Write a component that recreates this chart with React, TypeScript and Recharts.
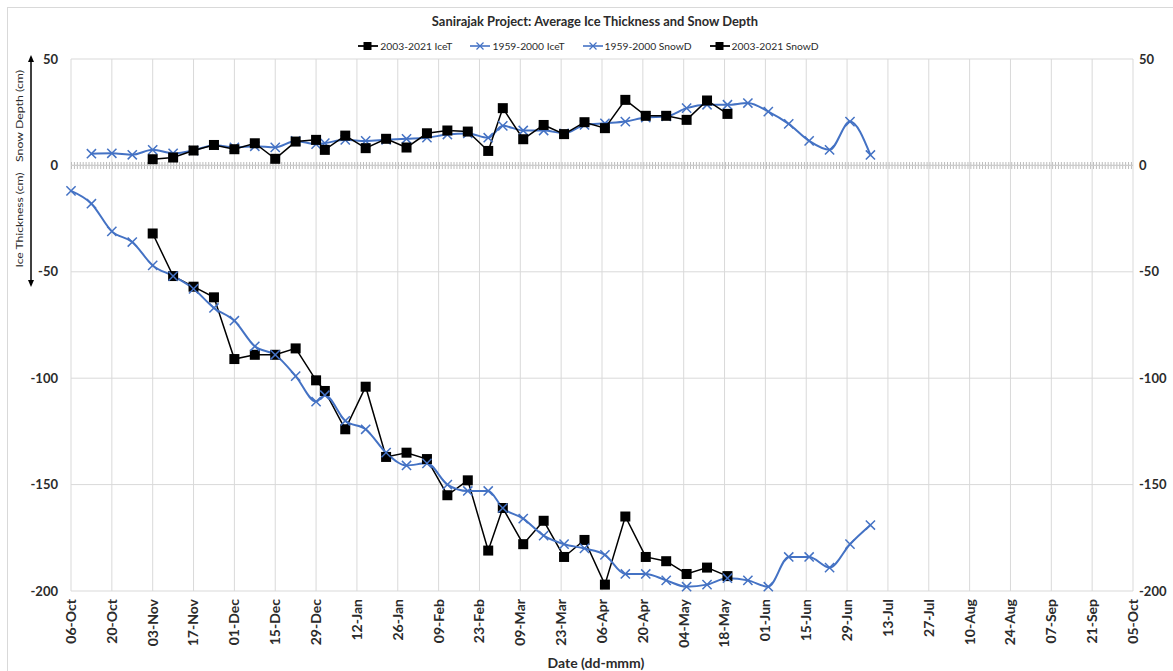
import { ComposedChart, Line, XAxis, YAxis, CartesianGrid, ReferenceLine, Legend } from 'recharts';

// x positions are days counted from 06-Oct
const TICK_LABELS = [
  '06-Oct', '20-Oct', '03-Nov', '17-Nov', '01-Dec', '15-Dec', '29-Dec', '12-Jan', '26-Jan',
  '09-Feb', '23-Feb', '09-Mar', '23-Mar', '06-Apr', '20-Apr', '04-May', '18-May', '01-Jun',
  '15-Jun', '29-Jun', '13-Jul', '27-Jul', '10-Aug', '24-Aug', '07-Sep', '21-Sep', '05-Oct',
];
const TICK_DAYS = TICK_LABELS.map((_, i) => i * 14);
const Y_TICKS = [-200, -150, -100, -50, 0, 50];

const ICE_NEW_DAYS = [28, 35, 42, 49, 56, 63, 70, 77, 84, 87, 94, 101, 108, 115, 122, 129, 136, 143, 148, 155, 162, 169, 176, 183, 190, 197, 204, 211, 218, 225];
const ICE_NEW = [-32, -52, -57, -62, -91, -89, -89, -86, -101, -106, -124, -104, -137, -135, -138, -155, -148, -181, -161, -178, -167, -184, -176, -197, -165, -184, -186, -192, -189, -193];

const ICE_OLD_DAYS = [0, 7, 14, 21, 28, 35, 42, 49, 56, 63, 70, 77, 84, 87, 94, 101, 108, 115, 122, 129, 136, 143, 148, 155, 162, 169, 176, 183, 190, 197, 204, 211, 218, 225, 232, 239, 246, 253, 260, 267, 274];
const ICE_OLD = [-12, -18, -31, -36, -47, -52, -58, -67, -73, -85, -89, -99, -111, -108, -120, -124, -135, -141, -140, -150, -153, -153, -161, -166, -174, -178, -180, -183, -192, -192, -195, -198, -197, -194, -195, -198, -184, -184, -189, -178, -169];

const SNOW_OLD_DAYS = [7, 14, 21, 28, 35, 42, 49, 56, 63, 70, 77, 84, 87, 94, 101, 108, 115, 122, 129, 136, 143, 148, 155, 162, 169, 176, 183, 190, 197, 204, 211, 218, 225, 232, 239, 246, 253, 260, 267, 274];
const SNOW_OLD = [5.5, 5.7, 5, 7.3, 5.7, 7, 9.5, 8.5, 9, 8.5, 11.5, 10, 10.5, 12, 11.5, 12, 12.5, 13, 14.5, 15, 13, 18.6, 16.4, 16.4, 15.1, 19, 19.8, 20.6, 22.5, 23, 26.9, 28.5, 28.5, 29.3, 25.3, 19.5, 11.5, 7.3, 20.6, 4.9];

const SNOW_NEW_DAYS = [28, 35, 42, 49, 56, 63, 70, 77, 84, 87, 94, 101, 108, 115, 122, 129, 136, 143, 148, 155, 162, 169, 176, 183, 190, 197, 204, 211, 218, 225];
const SNOW_NEW = [2.9, 3.7, 7, 9.6, 7.6, 10.4, 3.1, 11.2, 12, 7.3, 14, 8.1, 12.5, 8.4, 15.1, 16.4, 15.9, 6.8, 26.9, 12.3, 19, 14.7, 20.3, 17.5, 30.8, 23.3, 23.3, 21.4, 30.5, 24.2];

const BLUE = '#4472C4';
const TEXT = '#2b2b2b';
const FONT = 'Lato, "Liberation Sans", sans-serif';

const toPoints = (days: number[], values: number[]) => days.map((day, i) => ({ day, v: values[i] }));

const iceNew = toPoints(ICE_NEW_DAYS, ICE_NEW);
const iceOld = toPoints(ICE_OLD_DAYS, ICE_OLD);
const snowOld = toPoints(SNOW_OLD_DAYS, SNOW_OLD);
const snowNew = toPoints(SNOW_NEW_DAYS, SNOW_NEW);

const LEGEND_ITEMS = [
  { name: '2003-2021 IceT', marker: 'square' },
  { name: '1959-2000 IceT', marker: 'cross' },
  { name: '1959-2000 SnowD', marker: 'cross' },
  { name: '2003-2021 SnowD', marker: 'square' },
];

const squareDot = (props: any) => {
  const { cx, cy, index, dataKey } = props;
  const k = `sq-${dataKey}-${props.name}-${index}`;
  if (cx == null || cy == null) return <g key={k} />;
  return <rect key={k} x={cx - 5} y={cy - 5} width={10} height={10} fill="#000" />;
};

const crossDot = (props: any) => {
  const { cx, cy, index, dataKey } = props;
  const k = `x-${dataKey}-${props.name}-${index}`;
  if (cx == null || cy == null) return <g key={k} />;
  const s = 4.6;
  return (
    <path
      key={k}
      d={`M${cx - s},${cy - s}L${cx + s},${cy + s}M${cx - s},${cy + s}L${cx + s},${cy - s}`}
      stroke={BLUE}
      strokeWidth={1.5}
      fill="none"
    />
  );
};

const XTick = (props: any) => {
  const { x, y, payload } = props;
  const idx = TICK_DAYS.indexOf(payload.value);
  return (
    <text
      x={x}
      y={y}
      transform={`rotate(-90, ${x}, ${y})`}
      textAnchor="end"
      dy="0.35em"
      fontSize={14}
      fontWeight="bold"
      fill={TEXT}
    >
      {TICK_LABELS[idx]}
    </text>
  );
};

const renderLegend = () => (
  <div style={{ display: 'flex', justifyContent: 'center', fontSize: 10.3, color: TEXT, paddingLeft: 22 }}>
    {LEGEND_ITEMS.map((item) => (
      <div key={item.name} style={{ display: 'flex', alignItems: 'center', marginRight: 18 }}>
        <svg width={20} height={10} style={{ marginRight: 2 }}>
          {item.marker === 'square' ? (
            <>
              <line x1={0} y1={5} x2={20} y2={5} stroke="#000" strokeWidth={1.8} />
              <rect x={5.5} y={1} width={8} height={8} fill="#000" />
            </>
          ) : (
            <>
              <line x1={0} y1={5} x2={20} y2={5} stroke={BLUE} strokeWidth={1.6} />
              <path d="M6.5,1.5L13.5,8.5M6.5,8.5L13.5,1.5" stroke={BLUE} strokeWidth={1.2} />
            </>
          )}
        </svg>
        <span>{item.name}</span>
      </div>
    ))}
  </div>
);

export default function App() {
  return (
    <div
      style={{
        position: 'absolute',
        left: 0,
        top: 0,
        width: 1173,
        height: 671,
        overflow: 'hidden',
        background: '#fff',
        fontFamily: FONT,
      }}
    >
      <div
        style={{
          position: 'absolute',
          left: 7,
          top: 7,
          width: 1200,
          height: 700,
          border: '1px solid #d9d9d9',
        }}
      />
      <div
        style={{
          position: 'absolute',
          top: 13,
          left: 0,
          width: 1190,
          textAlign: 'center',
          fontSize: 12.9,
          fontWeight: 'bold',
          color: TEXT,
        }}
      >
        Sanirajak Project: Average Ice Thickness and Snow Depth
      </div>

      <ComposedChart width={1173} height={671} margin={{ top: 59, right: 0, bottom: 0, left: 0 }}>
        <CartesianGrid stroke="#d9d9d9" yAxisId="left" />
        <XAxis
          dataKey="day"
          type="number"
          domain={[0, 364]}
          ticks={TICK_DAYS}
          interval={0}
          height={80}
          tickLine={false}
          axisLine={false}
          tick={<XTick />}
          label={{ value: 'Date (dd-mmm)', position: 'insideBottom', offset: 3, dx: -6, fontSize: 14, fontWeight: 'bold', fill: TEXT }}
        />
        <YAxis
          yAxisId="left"
          orientation="left"
          type="number"
          domain={[-200, 50]}
          ticks={Y_TICKS}
          width={71}
          axisLine={false}
          tickLine={false}
          tickMargin={7}
          tick={{ fontSize: 13, fontWeight: 'bold', fill: TEXT }}
        />
        <YAxis
          yAxisId="right"
          orientation="right"
          type="number"
          domain={[-200, 50]}
          ticks={Y_TICKS}
          width={40}
          axisLine={false}
          tickLine={false}
          tickMargin={0}
          tick={{ fontSize: 13, fontWeight: 'bold', fill: TEXT, textAnchor: 'start' }}
        />
        <ReferenceLine y={0} yAxisId="left" stroke="#bdbdbd" strokeWidth={7} strokeDasharray="1 1.92" />
        <ReferenceLine y={0} yAxisId="left" stroke="#cccccc" strokeWidth={1.2} />
        <Legend
          layout="horizontal"
          verticalAlign="middle"
          align="center"
          wrapperStyle={{ top: 40, left: 0, width: 1173 }}
          content={renderLegend}
        />
        <Line
          data={iceNew}
          dataKey="v"
          name="2003-2021 IceT"
          yAxisId="left"
          type="linear"
          stroke="#000"
          strokeWidth={1.5}
          dot={squareDot}
          activeDot={false}
          isAnimationActive={false}
        />
        <Line
          data={iceOld}
          dataKey="v"
          name="1959-2000 IceT"
          yAxisId="left"
          type="monotone"
          stroke={BLUE}
          strokeWidth={2}
          dot={crossDot}
          activeDot={false}
          isAnimationActive={false}
        />
        <Line
          data={snowOld}
          dataKey="v"
          name="1959-2000 SnowD"
          yAxisId="left"
          type="monotone"
          stroke={BLUE}
          strokeWidth={2}
          dot={crossDot}
          activeDot={false}
          isAnimationActive={false}
        />
        <Line
          data={snowNew}
          dataKey="v"
          name="2003-2021 SnowD"
          yAxisId="right"
          type="linear"
          stroke="#000"
          strokeWidth={1.5}
          dot={squareDot}
          activeDot={false}
          isAnimationActive={false}
        />
      </ComposedChart>

      <svg
        width={60}
        height={300}
        style={{ position: 'absolute', left: 0, top: 0, pointerEvents: 'none' }}
      >
        <line x1={31} y1={60} x2={31} y2={282} stroke="#000" strokeWidth={1.5} />
        <path d="M31,55L28,62L34,62Z" fill="#000" />
        <path d="M31,287L28,280L34,280Z" fill="#000" />
        <text
          x={21}
          y={116}
          transform="rotate(-90, 21, 116)"
          textAnchor="middle"
          dominantBaseline="middle"
          fontSize={9.5}
          textLength={92}
          lengthAdjust="spacingAndGlyphs"
          fill={TEXT}
        >
          Snow Depth (cm)
        </text>
        <text
          x={21}
          y={220}
          transform="rotate(-90, 21, 220)"
          textAnchor="middle"
          dominantBaseline="middle"
          fontSize={9.5}
          textLength={95}
          lengthAdjust="spacingAndGlyphs"
          fill={TEXT}
        >
          Ice Thickness (cm)
        </text>
      </svg>
    </div>
  );
}
